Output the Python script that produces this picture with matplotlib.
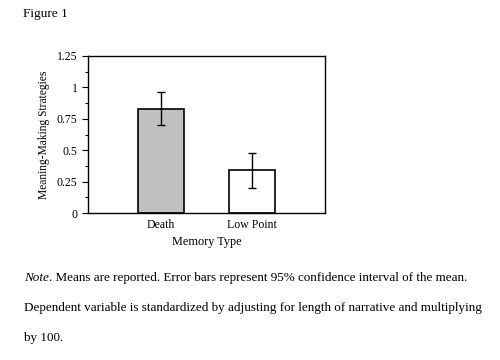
import matplotlib
matplotlib.use('Agg')
import matplotlib.pyplot as plt
from matplotlib.ticker import MultipleLocator

categories = ['Death', 'Low Point']
means = [0.83, 0.34]
ci_low = [0.70, 0.20]
ci_high = [0.96, 0.48]
bar_colors = ['#c0c0c0', 'white']
yticks = [0, 0.25, 0.5, 0.75, 1, 1.25]
ytick_labels = ['0', '0.25', '0.5', '0.75', '1', '1.25']

plt.rcParams['font.family'] = ['Liberation Serif', 'DejaVu Serif']

fig = plt.figure(figsize=(5, 3.6), dpi=100)
ax = fig.add_axes([88 / 500, 1 - 213 / 360, 237 / 500, 157 / 360])

xpos = list(range(len(categories)))
err = [[m - lo for m, lo in zip(means, ci_low)], [hi - m for m, hi in zip(means, ci_high)]]
ax.bar(xpos, means, width=0.5, color=bar_colors, edgecolor='black', linewidth=1.2, zorder=2)
ax.errorbar(xpos, means, yerr=err, fmt='none', ecolor='black', elinewidth=1, capsize=3, capthick=1, zorder=3)

ax.set_xlim(-0.8, 1.8)
ax.set_ylim(0, 1.25)
ax.set_yticks(yticks)
ax.set_yticklabels(ytick_labels, fontsize=8.5)
ax.yaxis.set_minor_locator(MultipleLocator(0.125))
ax.tick_params(axis='y', which='major', direction='out', length=4, width=0.8)
ax.tick_params(axis='y', which='minor', direction='out', length=2, width=0.8)
ax.set_xticks(xpos)
ax.set_xticklabels(categories, fontsize=8.5)
ax.tick_params(axis='x', length=0, pad=4)
for s in ax.spines.values():
    s.set_linewidth(1.0)

ax.set_ylabel('Meaning-Making Strategies', fontsize=8.3, labelpad=5)
ax.set_xlabel('Memory Type', fontsize=8.8, labelpad=4)

fig.text(23 / 500, 1 - 14 / 360, 'Figure 1', fontsize=9.5, va='center', ha='left')

note_size = 9.45
note = fig.text(24 / 500, 1 - 278 / 360, 'Note', fontsize=note_size, style='italic',
                va='center', ha='left')
renderer = fig.canvas.get_renderer()
bb = note.get_window_extent(renderer)
fig.text(bb.x1 / fig.bbox.width, 1 - 278 / 360,
         '. Means are reported. Error bars represent 95% confidence interval of the mean.',
         fontsize=note_size, va='center', ha='left')
fig.text(24 / 500, 1 - 308 / 360,
         'Dependent variable is standardized by adjusting for length of narrative and multiplying',
         fontsize=note_size, va='center', ha='left')
fig.text(24 / 500, 1 - 338 / 360, 'by 100.', fontsize=note_size, va='center', ha='left')

fig.savefig('out.png', dpi=100)
